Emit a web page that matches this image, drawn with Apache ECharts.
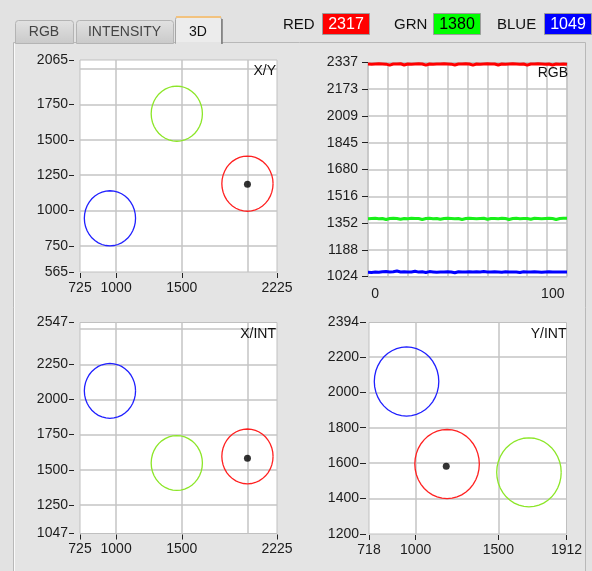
<!DOCTYPE html>
<html><head><meta charset="utf-8">
<script src="https://cdn.jsdelivr.net/npm/echarts@6/dist/echarts.min.js"></script>
<style>html,body{margin:0;padding:0;background:#e2e2e2;}#c{width:592px;height:571px;}</style>
</head><body><div id="c"></div>
<script>
// ---------- data ----------
const tabNames = ['RGB', 'INTENSITY', '3D'];
const channelNames = ['RED', 'GRN', 'BLUE'];
const channelValues = [2317, 1380, 1049];
const channelColors = ['#ff0000', '#00ff00', '#0000ff'];
const channelTextColors = ['#ffffff', '#000000', '#ffffff'];
const circleColors = ['#ff2020', '#8ce628', '#2020ff'];

const meanX = [2000, 1462, 953];
const meanY = [1190, 1685, 945];
const meanINT = [1595, 1548, 2061];
const circleRadius = 195;
const pointX = 2000, pointY = 1185, pointINT = 1582;

const xyXLabels = [725, 1000, 1500, 2225];
const xyXGrid = [1000, 1500, 2000];
const xyYLabels = [565, 750, 1000, 1250, 1500, 1750, 2065];
const xyYGrid = [750, 1000, 1250, 1500, 1750, 2000];
const xintYLabels = [1047, 1250, 1500, 1750, 2000, 2250, 2547];
const xintYGrid = [1250, 1500, 1750, 2000, 2250, 2500];
const yintXLabels = [718, 1000, 1500, 1912];
const yintXGrid = [1000, 1500];
const yintYLabels = [1200, 1400, 1600, 1800, 2000, 2200, 2394];
const yintYGrid = [1400, 1600, 1800, 2000, 2200];
const rgbYLabels = [1024, 1188, 1352, 1516, 1680, 1845, 2009, 2173, 2337];
const rgbXLabels = [0, 100];

const rgbSample = [0,2,4,6,8,10,12,14,16,18,20,22,24,26,28,30,32,34,36,38,40,42,44,46,48,50,52,54,56,58,60,62,64,66,68,70,72,74,76,78,80,82,84,86,88,90,92,94,96,98,100,102,104,106,108,110];
const rgbRed = [2328,2327,2328,2329,2328,2327,2321,2328,2328,2329,2322,2328,2327,2328,2329,2328,2321,2328,2327,2328,2328,2329,2328,2327,2322,2328,2328,2329,2328,2321,2328,2327,2328,2329,2328,2328,2322,2328,2327,2328,2329,2328,2327,2328,2321,2328,2328,2329,2328,2327,2328,2322,2328,2327,2328,2326];
const rgbGreen = [1379,1380,1381,1379,1380,1374,1380,1381,1380,1375,1380,1379,1381,1380,1380,1374,1380,1381,1379,1380,1375,1380,1381,1380,1379,1380,1374,1380,1381,1380,1379,1380,1381,1375,1380,1380,1379,1381,1380,1374,1380,1381,1379,1380,1380,1375,1381,1380,1379,1380,1381,1380,1374,1380,1381,1381];
const rgbBlue = [1050,1049,1051,1050,1053,1054,1052,1053,1058,1052,1053,1051,1052,1056,1051,1053,1049,1054,1052,1050,1051,1052,1053,1052,1047,1053,1052,1051,1053,1052,1053,1052,1054,1052,1051,1053,1052,1050,1053,1052,1051,1052,1049,1053,1052,1051,1053,1052,1050,1052,1053,1051,1052,1051,1052,1052];

// ---------- styling helpers ----------
const FONT = 'Liberation Sans, Arial, sans-serif';
const TXT = '#1c1c1c';
const GRIDC = '#c4c4c4';

function labelAxis(gridIndex, position, min, max, labels, o) {
  return {
    gridIndex, position, min, max, type: 'value',
    offset: o.offset || 0,
    axisLine: { show: false },
    axisTick: { show: o.tick !== false, length: o.tickLen || 5, customValues: labels,
                lineStyle: { color: '#222', width: 1 } },
    axisLabel: { customValues: labels, fontSize: 14, fontFamily: FONT, color: TXT, margin: o.margin || 2,
                 formatter: v => String(Math.round(v)) },
    splitLine: { show: !!o.split, lineStyle: { color: GRIDC, width: 1.5 } }
  };
}
function gridAxis(gridIndex, position, min, max, lines) {
  return {
    gridIndex, position, min, max, type: 'value',
    axisLine: { show: false },
    axisTick: { show: false, customValues: lines },
    axisLabel: { show: false, customValues: lines },
    splitLine: { show: true, lineStyle: { color: GRIDC, width: 1.5 } }
  };
}
function circleSeries(xIdx, yIdx, xs, ys) {
  return {
    type: 'custom', xAxisIndex: xIdx, yAxisIndex: yIdx, silent: true, clip: false,
    data: xs.map((x, i) => [x, ys[i], i]),
    renderItem: function (params, api) {
      const cx = api.value(0), cy = api.value(1);
      const pts = [];
      for (let k = 0; k <= 40; k++) {
        const a = k / 40 * Math.PI * 2;
        pts.push(api.coord([cx + circleRadius * Math.cos(a), cy + circleRadius * Math.sin(a)]));
      }
      return { type: 'polyline', shape: { points: pts },
               style: { stroke: circleColors[api.value(2)], fill: null, lineWidth: 1.3 } };
    }
  };
}
function dotSeries(xIdx, yIdx, x, y) {
  return { type: 'scatter', xAxisIndex: xIdx, yAxisIndex: yIdx, symbolSize: 7, silent: true,
           itemStyle: { color: '#000' }, data: [[x, y]] };
}

const grids = [
  { left: 80, top: 60, width: 197, height: 212 },
  { left: 368, top: 62.5, width: 199, height: 214 },
  { left: 80, top: 322.5, width: 197, height: 211 },
  { left: 369, top: 322.5, width: 197.5, height: 211.5 }
].map(g => Object.assign(g, { show: true, backgroundColor: '#ffffff', borderColor: '#c0c0c0', borderWidth: 1 }));

const xAxes = [
  labelAxis(0, 'bottom', 725, 2225, xyXLabels, { offset: 1, tickLen: 5, margin: 8 }),
  gridAxis(0, 'top', 725, 2225, xyXGrid),
  { gridIndex: 1, type: 'value', position: 'top', min: 0, max: 110, interval: 11,
    axisLine: { show: false }, axisTick: { show: false }, axisLabel: { show: false },
    splitLine: { show: true, lineStyle: { color: GRIDC, width: 1.5 } } },
  labelAxis(1, 'bottom', -4, 108, rgbXLabels, { tick: false, margin: 11 }),
  labelAxis(2, 'bottom', 725, 2225, xyXLabels, { offset: 1, tickLen: 5, margin: 8 }),
  gridAxis(2, 'top', 725, 2225, xyXGrid),
  labelAxis(3, 'bottom', 718, 1912, yintXLabels, { offset: 1, tickLen: 5, margin: 8 }),
  gridAxis(3, 'top', 718, 1912, yintXGrid)
];
const yAxes = [
  labelAxis(0, 'left', 565, 2065, xyYLabels, { offset: 6, tickLen: 5, margin: 6 }),
  gridAxis(0, 'right', 565, 2065, xyYGrid),
  labelAxis(1, 'left', 1024, 2337, rgbYLabels, { offset: 3, tickLen: 6, margin: 7, split: true }),
  labelAxis(2, 'left', 1047, 2547, xintYLabels, { offset: 6, tickLen: 5, margin: 6 }),
  gridAxis(2, 'right', 1047, 2547, xintYGrid),
  labelAxis(3, 'left', 1200, 2394, yintYLabels, { offset: 3, tickLen: 6, margin: 7 }),
  gridAxis(3, 'right', 1200, 2394, yintYGrid)
];

const rgbLine = (vals, color) => ({
  type: 'line', xAxisIndex: 2, yAxisIndex: 2, showSymbol: false, silent: true,
  data: rgbSample.map((s, i) => [s, vals[i]]),
  lineStyle: { color, width: 3 }, itemStyle: { color }
});

const series = [
  circleSeries(0, 0, meanX, meanY), dotSeries(0, 0, pointX, pointY),
  rgbLine(rgbRed, '#ff0000'), rgbLine(rgbGreen, '#19f019'), rgbLine(rgbBlue, '#0000ff'),
  circleSeries(4, 3, meanX, meanINT), dotSeries(4, 3, pointX, pointINT),
  circleSeries(6, 5, meanY, meanINT), dotSeries(6, 5, pointY, pointINT)
];

// ---------- decorations ----------
const G = echarts.graphic;
const graphics = [];
graphics.push({ type: 'rect', z: -10, shape: { x: 13.5, y: 42.5, width: 572, height: 540 },
  style: { fill: '#e4e4e4', stroke: '#b8b8b8', lineWidth: 1 } });
graphics.push({ type: 'line', z: -9, shape: { x1: 14.5, y1: 43.5, x2: 14.5, y2: 571 }, style: { stroke: '#fafafa', lineWidth: 1 } });
const tabBoxes = [[15, 20, 58, 23], [76, 20, 97, 23], [175, 16, 46, 27]];
tabBoxes.forEach((b, i) => {
  const active = i === 2;
  graphics.push({ type: 'rect', z: -5, shape: { x: b[0] + 0.5, y: b[1] + 0.5, width: b[2], height: b[3], r: [3, 3, 0, 0] },
    style: { fill: active ? '#ececec' : new G.LinearGradient(0, 0, 0, 1, [{ offset: 0, color: '#e2e2e2' }, { offset: 1, color: '#c9c9c9' }]),
             stroke: active ? '#a6a6a6' : '#b4b4b4', lineWidth: 1 } });
  if (active) {
    graphics.push({ type: 'rect', z: -4, shape: { x: b[0] + 1, y: b[1], width: b[2] - 1, height: 2 }, style: { fill: '#f2c27e' } });
    graphics.push({ type: 'rect', z: -4, shape: { x: b[0] + 1, y: 42, width: b[2] - 1, height: 2 }, style: { fill: '#e4e4e4' } });
    graphics.push({ type: 'line', z: -4, shape: { x1: b[0] + b[2] + 1, y1: b[1] + 3, x2: b[0] + b[2] + 1, y2: 44 }, style: { stroke: '#7a7a7a', lineWidth: 1.5 } });
  }
  graphics.push({ type: 'text', z: 5, x: b[0] + b[2] / 2, y: 32,
    style: { text: tabNames[i], fill: active ? '#111' : '#444', font: '14px ' + FONT, align: 'center', verticalAlign: 'middle' } });
});
const labelX = [283, 394, 497];
const boxX = [322, 433, 544];
channelNames.forEach((n, i) => {
  graphics.push({ type: 'text', z: 5, x: labelX[i], y: 25,
    style: { text: n, fill: '#111', font: '15px ' + FONT, align: 'left', verticalAlign: 'middle' } });
  graphics.push({ type: 'rect', z: 4, shape: { x: boxX[i] + 0.5, y: 13.5, width: 47, height: 21 },
    style: { fill: channelColors[i], stroke: '#9c9c9c', lineWidth: 1 } });
  graphics.push({ type: 'text', z: 5, x: boxX[i] + 24, y: 24.5,
    style: { text: String(channelValues[i]), fill: channelTextColors[i], font: '16px ' + FONT, align: 'center', verticalAlign: 'middle' } });
});
[['X/Y', 276, 71.5], ['RGB', 568, 73], ['X/INT', 276, 334], ['Y/INT', 566.5, 334]].forEach(t => {
  graphics.push({ type: 'text', z: 10, x: t[1], y: t[2],
    style: { text: t[0], fill: '#111', font: '14px ' + FONT, align: 'right', verticalAlign: 'middle' } });
});

const chart = echarts.init(document.getElementById('c'), null, { renderer: 'canvas' });
chart.setOption({
  backgroundColor: '#e2e2e2',
  animation: false,
  grid: grids,
  xAxis: xAxes,
  yAxis: yAxes,
  series: series,
  graphic: graphics
});
</script></body></html>
